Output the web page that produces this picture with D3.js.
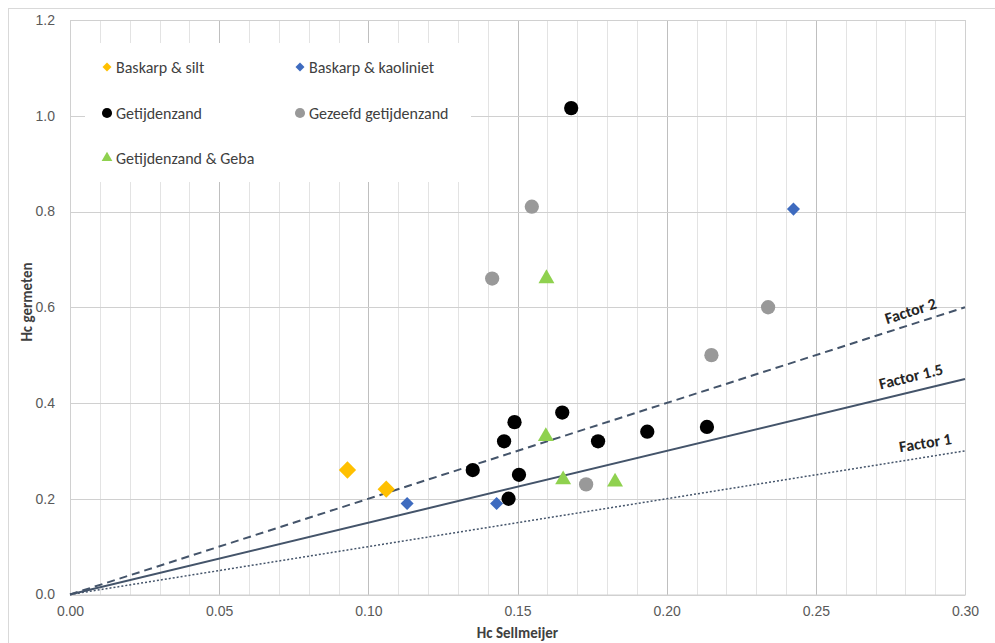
<!DOCTYPE html>
<html lang="nl">
<head>
  <meta charset="utf-8">
  <title>Hc germeten vs Hc Sellmeijer</title>
  <script src="https://cdn.jsdelivr.net/npm/d3@7"></script>
  <style>
    body { margin: 0; background: #fff; }
    svg { display: block; font-family: Calibri, Carlito, "Open Sans", sans-serif; }
    .tick text { font-size: 14px; fill: #595959; }
    .grid line { shape-rendering: crispEdges; }
  </style>
</head>
<body>
  <div id="chart"></div>
  <script>
    // data
    const baskarpSilt = [[0.093, 0.26], [0.106, 0.22]]
    const baskarpKaoliniet = [[0.113, 0.19], [0.143, 0.19], [0.2425, 0.805]]
    const getijdenzand = [
      [0.168, 1.016], [0.135, 0.26], [0.1455, 0.32], [0.149, 0.36], [0.1505, 0.25],
      [0.147, 0.20], [0.165, 0.38], [0.177, 0.32], [0.1935, 0.34], [0.2135, 0.35]
    ]
    const gezeefd = [[0.1415, 0.66], [0.1548, 0.81], [0.173, 0.23], [0.215, 0.50], [0.234, 0.60]]
    const geba = [[0.1597, 0.66], [0.1595, 0.33], [0.1653, 0.24], [0.1827, 0.235]]

    const factors = [2, 1.5, 1]
    const factorLabels = ['Factor 2', 'Factor 1.5', 'Factor 1']
    const xTicks = [0, 0.05, 0.10, 0.15, 0.20, 0.25, 0.30]
    const yTicks = [0, 0.2, 0.4, 0.6, 0.8, 1.0, 1.2]

    const width = 995
    const height = 643
    const margin = { left: 70, right: 30, top: 20, bottom: 48 }
    const plotW = 965 - margin.left
    const plotH = 594.5 - margin.top

    const x = d3.scaleLinear().domain([0, 0.30]).range([0, plotW])
    const y = d3.scaleLinear().domain([0, 1.2]).range([plotH, 0])

    const svg = d3.select('#chart').append('svg')
      .attr('width', width)
      .attr('height', height)

    // chart frame
    svg.append('rect')
      .attr('x', 8.5).attr('y', 8.5)
      .attr('width', width).attr('height', height)
      .attr('fill', 'none').attr('stroke', '#d9d9d9')

    const g = svg.append('g').attr('transform', `translate(${margin.left},${margin.top})`)

    // minor vertical grid every 0.01
    g.append('g').attr('class', 'grid')
      .attr('transform', `translate(0,${plotH})`)
      .call(d3.axisBottom(x).tickValues(d3.range(1, 30).map(d => d / 100)).tickSize(-plotH).tickFormat(''))
      .call(s => s.select('.domain').remove())
      .selectAll('line').attr('stroke', '#e3e3e3')

    // major vertical grid every 0.05
    g.append('g').attr('class', 'grid')
      .attr('transform', `translate(0,${plotH})`)
      .call(d3.axisBottom(x).tickValues(xTicks).tickSize(-plotH).tickFormat(''))
      .call(s => s.select('.domain').remove())
      .selectAll('line').attr('stroke', '#bfbfbf')

    // horizontal grid
    g.append('g').attr('class', 'grid')
      .call(d3.axisLeft(y).tickValues(yTicks).tickSize(-plotW).tickFormat(''))
      .call(s => s.select('.domain').remove())
      .selectAll('line').attr('stroke', '#d0d0d0')

    // plot border
    g.append('rect')
      .attr('x', 0.5).attr('y', 0.5)
      .attr('width', plotW).attr('height', plotH)
      .attr('fill', 'none').attr('stroke', '#d0d0d0')

    // legend box covers the grid
    const legend = g.append('g').attr('transform', 'translate(15,23)')
    legend.append('rect')
      .attr('width', 386).attr('height', 139)
      .attr('fill', '#fff')

    // axis labels
    g.append('g')
      .attr('transform', `translate(0,${plotH})`)
      .call(d3.axisBottom(x).tickValues(xTicks).tickSize(0).tickPadding(12).tickFormat(d3.format('.2f')))
      .call(s => s.select('.domain').remove())

    g.append('g')
      .call(d3.axisLeft(y).tickValues(yTicks).tickSize(0).tickPadding(15).tickFormat(d3.format('.1f')))
      .call(s => s.select('.domain').remove())

    // factor lines
    const lineColor = '#44546a'
    const dashes = ['8,5', null, '2,2']
    const widths = [2, 2, 1.5]
    factors.forEach((f, i) => {
      g.append('line')
        .attr('x1', x(0)).attr('y1', y(0))
        .attr('x2', x(0.30)).attr('y2', y(0.30 * f))
        .attr('stroke', lineColor)
        .attr('stroke-width', widths[i])
        .attr('stroke-dasharray', dashes[i])
    })

    // factor labels placed along lines
    const labelX = [0.2823, 0.2823, 0.287]
    const labelOff = [-8, -10, -9]
    factors.forEach((f, i) => {
      const px = x(labelX[i])
      const py = y(labelX[i] * f) + labelOff[i]
      const angle = Math.atan2(y(0) - y(f * 0.30), x(0.30)) * 180 / Math.PI
      g.append('text')
        .attr('transform', `translate(${px},${py}) rotate(${-angle})`)
        .attr('text-anchor', 'middle')
        .attr('font-size', 16)
        .attr('font-weight', 'bold')
        .attr('fill', '#262626')
        .text(factorLabels[i])
    })

    // series
    const series = [
      { name: 'Baskarp & silt', data: baskarpSilt, color: '#ffc000', type: 'diamond', size: 150 },
      { name: 'Baskarp & kaoliniet', data: baskarpKaoliniet, color: '#3e6bbf', type: 'diamond', size: 85 },
      { name: 'Getijdenzand', data: getijdenzand, color: '#000000', type: 'circle', size: 160 },
      { name: 'Gezeefd getijdenzand', data: gezeefd, color: '#999999', type: 'circle', size: 160 },
      { name: 'Getijdenzand & Geba', data: geba, color: '#8fd14f', type: 'triangle', size: 110 }
    ]

    const symbolPath = (type, size) => {
      if (type === 'diamond') return d3.symbol(d3.symbolSquare, size)()
      if (type === 'triangle') return d3.symbol(d3.symbolTriangle, size)()
      return d3.symbol(d3.symbolCircle, size)()
    }
    const rot = type => type === 'diamond' ? ' rotate(45)' : ''

    series.forEach(s => {
      g.append('g').selectAll('path')
        .data(s.data)
        .enter()
        .append('path')
        .attr('d', symbolPath(s.type, s.size))
        .attr('transform', d => `translate(${x(d[0])},${y(d[1])})${rot(s.type)}`)
        .attr('fill', s.color)
    })

    // legend entries
    const legendPos = [[22, 24], [215, 24], [22, 70], [215, 70], [22, 115]]
    const legendSize = { diamond: 40, circle: 80, triangle: 50 }
    series.forEach((s, i) => {
      const item = legend.append('g').attr('transform', `translate(${legendPos[i][0]},${legendPos[i][1]})`)
      item.append('path')
        .attr('d', symbolPath(s.type, legendSize[s.type]))
        .attr('transform', rot(s.type).trim() || null)
        .attr('fill', s.color)
      item.append('text')
        .attr('x', 9).attr('y', 5.5)
        .attr('font-size', 16)
        .attr('fill', '#404040')
        .text(s.name)
    })

    // axis titles
    svg.append('text')
      .attr('x', margin.left + plotW / 2).attr('y', 638)
      .attr('text-anchor', 'middle')
      .attr('font-size', 15)
      .attr('font-weight', 'bold')
      .attr('fill', '#404040')
      .text('Hc Sellmeijer')

    svg.append('text')
      .attr('transform', `translate(32,302) rotate(-90)`)
      .attr('text-anchor', 'middle')
      .attr('font-size', 15)
      .attr('font-weight', 'bold')
      .attr('fill', '#404040')
      .text('Hc germeten')
  </script>
</body>
</html>
